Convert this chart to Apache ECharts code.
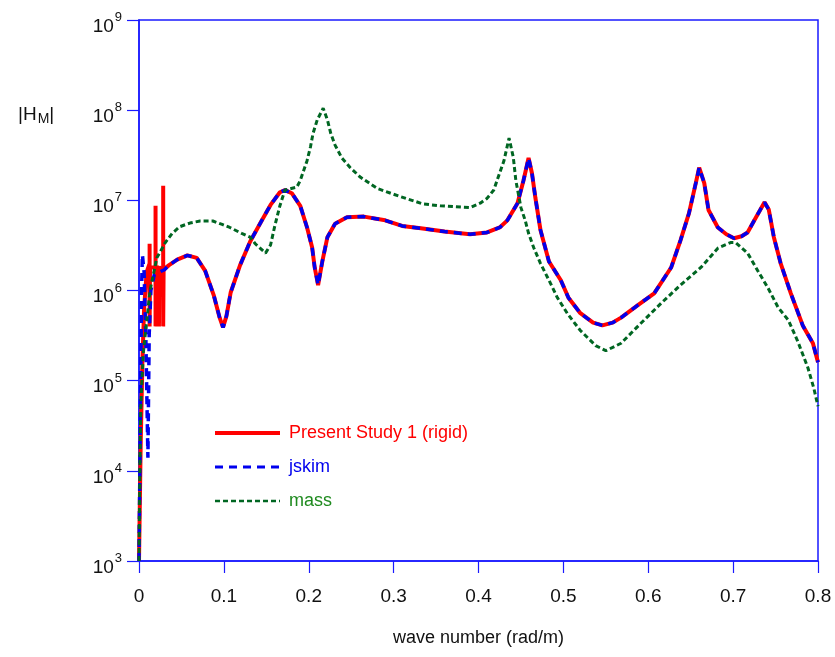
<!DOCTYPE html>
<html>
<head>
<meta charset="utf-8">
<script src="https://cdn.jsdelivr.net/npm/echarts@6/dist/echarts.min.js"></script>
<style>html,body{margin:0;padding:0;background:#fff}#c{width:835px;height:657px}</style>
</head>
<body>
<div id="c"></div>
<script>
// wave number k (rad/m), |H_M|
const seriesNames = ['Present Study 1 (rigid)', 'jskim', 'mass'];
const xTicks = [0, 0.1, 0.2, 0.3, 0.4, 0.5, 0.6, 0.7, 0.8];
const yTicks = [1e3, 1e4, 1e5, 1e6, 1e7, 1e8, 1e9];

const presentStart = [
  [0, 1000], [0.002, 2.0e4], [0.004, 1.6e5], [0.006, 6.3e5], [0.009, 1.6e6],
  [0.0125, 2.0e6], [0.0125, 3.3e6], [0.0125, 4.0e5], [0.013, 1.8e6],
  [0.0195, 1.8e6], [0.0195, 8.7e6], [0.0195, 4.0e5], [0.020, 1.8e6],
  [0.0235, 1.8e6], [0.0235, 4.0e5], [0.024, 1.8e6],
  [0.0285, 1.7e6], [0.0285, 1.45e7], [0.0285, 4.0e5], [0.029, 1.7e6]
];
const jskimStart = [
  [0, 1000], [0.001, 1.0e4], [0.003, 1.0e6], [0.004, 2.5e6], [0.006, 1.6e6],
  [0.008, 3.2e5], [0.0105, 1.4e4], [0.012, 3.2e5], [0.014, 1.0e6], [0.018, 1.5e6],
  [0.024, 1.6e6], [0.03, 1.7e6]
];
const commonCurve = [
  [0.035, 1.9e6], [0.045, 2.2e6], [0.057, 2.45e6], [0.068, 2.3e6], [0.078, 1.65e6],
  [0.088, 8.9e5], [0.095, 5.0e5], [0.099, 3.9e5], [0.103, 5.2e5], [0.108, 9.5e5],
  [0.119, 1.9e6], [0.131, 3.5e6], [0.143, 5.6e6], [0.155, 8.9e6], [0.166, 1.23e7],
  [0.172, 1.3e7], [0.180, 1.2e7], [0.190, 8.7e6], [0.198, 5.0e6], [0.204, 3.0e6],
  [0.207, 1.8e6], [0.211, 1.15e6], [0.216, 2.1e6], [0.222, 3.9e6], [0.231, 5.5e6],
  [0.245, 6.5e6], [0.265, 6.6e6], [0.29, 6.0e6], [0.31, 5.2e6], [0.332, 4.9e6],
  [0.36, 4.5e6], [0.39, 4.2e6], [0.41, 4.4e6], [0.425, 5.0e6], [0.434, 6.0e6],
  [0.446, 9.3e6], [0.453, 1.66e7], [0.459, 2.95e7], [0.463, 2.0e7], [0.467, 1.07e7],
  [0.473, 4.7e6], [0.483, 2.1e6], [0.497, 1.3e6], [0.506, 8.3e5], [0.52, 5.6e5],
  [0.535, 4.4e5], [0.546, 4.1e5], [0.558, 4.4e5], [0.568, 5.0e5], [0.587, 6.8e5],
  [0.607, 9.3e5], [0.627, 1.8e6], [0.638, 3.6e6], [0.648, 7.2e6], [0.656, 1.55e7],
  [0.660, 2.3e7], [0.666, 1.55e7], [0.671, 7.8e6], [0.682, 5.0e6], [0.692, 4.2e6],
  [0.701, 3.8e6], [0.710, 4.0e6], [0.717, 4.4e6], [0.727, 6.5e6], [0.737, 9.5e6],
  [0.742, 7.9e6], [0.748, 3.9e6], [0.756, 2.0e6], [0.768, 9.3e5], [0.782, 4.1e5],
  [0.794, 2.6e5], [0.8, 1.6e5]
];
const massData = [
  [0, 1000], [0.001, 1.0e4], [0.002, 5.0e4], [0.005, 2.0e5], [0.013, 1.0e6],
  [0.021, 2.3e6], [0.031, 3.4e6], [0.039, 4.3e6], [0.048, 5.1e6], [0.06, 5.6e6],
  [0.072, 5.9e6], [0.087, 5.9e6], [0.098, 5.4e6], [0.107, 5.0e6], [0.121, 4.3e6],
  [0.131, 3.9e6], [0.137, 3.3e6], [0.149, 2.6e6], [0.155, 3.2e6], [0.160, 5.2e6],
  [0.166, 8.7e6], [0.172, 1.3e7], [0.186, 1.4e7], [0.190, 1.66e7], [0.198, 2.75e7],
  [0.202, 3.9e7], [0.205, 5.5e7], [0.210, 7.8e7], [0.217, 1.05e8], [0.222, 7.8e7],
  [0.226, 5.5e7], [0.231, 4.1e7], [0.239, 2.95e7], [0.249, 2.3e7], [0.261, 1.8e7],
  [0.281, 1.35e7], [0.308, 1.1e7], [0.335, 9.1e6], [0.355, 8.7e6], [0.39, 8.3e6],
  [0.402, 9.3e6], [0.41, 1.05e7], [0.418, 1.3e7], [0.424, 1.9e7], [0.43, 2.75e7],
  [0.436, 4.9e7], [0.441, 3.0e7], [0.444, 1.66e7], [0.450, 8.3e6], [0.455, 6.0e6],
  [0.459, 4.3e6], [0.465, 3.0e6], [0.473, 2.0e6], [0.483, 1.3e6], [0.493, 8.3e5],
  [0.505, 5.5e5], [0.52, 3.6e5], [0.538, 2.45e5], [0.55, 2.15e5], [0.568, 2.6e5],
  [0.591, 4.3e5], [0.615, 7.2e5], [0.638, 1.15e6], [0.662, 1.8e6], [0.682, 2.95e6],
  [0.697, 3.4e6], [0.703, 3.4e6], [0.717, 2.6e6], [0.729, 1.66e6], [0.741, 1.07e6],
  [0.753, 6.5e5], [0.765, 4.7e5], [0.776, 2.75e5], [0.788, 1.4e5], [0.795, 8.3e4],
  [0.8, 5.2e4]
];

const presentData = presentStart.concat(commonCurve);
const jskimData = jskimStart.concat(commonCurve);

const axisBlue = '#1a1aff';
const FONT = 'Liberation Sans, Arial, sans-serif';
const chart = echarts.init(document.getElementById('c'));
chart.setOption({
  animation: false,
  backgroundColor: '#fff',
  grid: { left: 139, right: 17, top: 20, bottom: 96, show: true, borderColor: axisBlue, borderWidth: 1.5, backgroundColor: 'transparent' },
  title: {
    text: '{a||H}{b|M}{a||}',
    left: 13, top: 98,
    textStyle: {
      fontWeight: 'normal',
      rich: {
        a: { fontSize: 19, fontFamily: FONT, color: '#111', fontWeight: 'normal' },
        b: { fontSize: 14, fontFamily: FONT, color: '#111', fontWeight: 'normal', padding: [9, 0, 0, 1] }
      }
    }
  },
  legend: {
    orient: 'vertical', left: 208, top: 419, itemWidth: 65, itemHeight: 14, itemGap: 16,
    itemStyle: { opacity: 0 },
    textStyle: { fontSize: 18, fontFamily: FONT, padding: [0, 0, 0, 4] },
    data: [
      { name: seriesNames[0], textStyle: { color: '#ff0000' }, lineStyle: { width: 4 } },
      { name: seriesNames[1], textStyle: { color: '#0000ee' }, lineStyle: { width: 3 } },
      { name: seriesNames[2], textStyle: { color: '#1f8a1f' }, lineStyle: { width: 2.5 } }
    ]
  },
  xAxis: {
    type: 'value', min: 0, max: 0.8, interval: 0.1,
    name: 'wave number (rad/m)', nameLocation: 'middle', nameGap: 68,
    nameTextStyle: { fontSize: 18, fontFamily: FONT, color: '#111' },
    axisLine: { lineStyle: { color: axisBlue, width: 1.5 } },
    axisTick: { show: true, length: 12, lineStyle: { color: axisBlue, width: 1.2 } },
    axisLabel: { fontSize: 19, fontFamily: FONT, color: '#111', margin: 26,
      formatter: v => (v === 0 ? '0' : v.toFixed(1)) },
    splitLine: { show: false }
  },
  yAxis: {
    type: 'log', logBase: 10, min: yTicks[0], max: yTicks[yTicks.length - 1],
    axisLine: { show: true, lineStyle: { color: axisBlue, width: 1.5 } },
    axisTick: { show: true, length: 12, lineStyle: { color: axisBlue, width: 1.2 } },
    minorTick: { show: false },
    splitLine: { show: false },
    axisLabel: {
      margin: 17, fontFamily: FONT,
      formatter: v => '{b|10}{s|' + Math.round(Math.log10(v)) + '}',
      rich: {
        b: { fontSize: 19, fontFamily: FONT, color: '#111', padding: [13, 0, 0, 0] },
        s: { fontSize: 13, fontFamily: FONT, color: '#111', padding: [0, 0, 5, 1] }
      }
    }
  },
  series: [
    { name: seriesNames[0], type: 'line', data: presentData, showSymbol: false, symbol: 'none',
      lineStyle: { color: '#ff0000', width: 4 }, itemStyle: { color: '#ff0000' } },
    { name: seriesNames[1], type: 'line', data: jskimData, showSymbol: false, symbol: 'none',
      lineStyle: { color: '#0000ee', width: 3.5, type: [8, 6] }, itemStyle: { color: '#0000ee' } },
    { name: seriesNames[2], type: 'line', data: massData, showSymbol: false, symbol: 'none',
      lineStyle: { color: '#006622', width: 3, type: [5, 3] }, itemStyle: { color: '#006622' } }
  ]
});
</script>
</body>
</html>
